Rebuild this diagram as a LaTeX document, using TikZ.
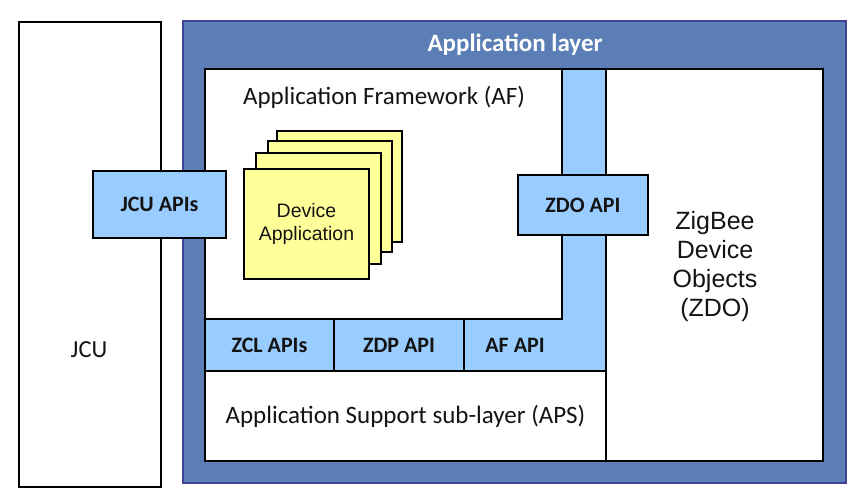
\documentclass[tikz,border=0pt]{standalone}
\usepackage{fontspec}
\setmainfont{Carlito}
\newfontfamily\arial{Liberation Sans}
\usetikzlibrary{fit}
\definecolor{layerblue}{RGB}{90,126,181}
\definecolor{layeredge}{RGB}{62,66,152}
\definecolor{apiblue}{RGB}{153,204,255}
\definecolor{appyellow}{RGB}{255,255,153}
\definecolor{inkc}{RGB}{20,20,20}
\begin{document}
\begin{tikzpicture}[x=1pt,y=-1pt,
  every node/.style={outer sep=0pt},
  box/.style={draw=black, line width=1.8pt, inner sep=0pt, fill=white},
  apibox/.style={box, fill=apiblue},
  apifill/.style={inner sep=0pt, fill=apiblue},
  appbox/.style={draw=black, line width=1.5pt, inner sep=0pt, fill=appyellow},
  apitext/.style={font=\bfseries\fontsize{22}{26}\selectfont, text=inkc},
  plaintext/.style={font=\fontsize{25}{30}\selectfont, text=inkc},
  arialtext/.style={font=\arial\fontsize{19.5}{23.5}\selectfont, text=inkc, align=center}]
\useasboundingbox (0,0) rectangle (862,502);

% JCU
\node[box, fit={(19,22)(161,487)}] (jcu) {};
\node[font=\fontsize{24.5}{29}\selectfont, text=inkc] (jcut) at (89,350) {JCU};

% Application layer
\node[draw=layeredge, line width=1.4pt, fill=layerblue, inner sep=0pt, fit={(183,21)(846,483)}] (layer) {};
\node[font=\bfseries\fontsize{25}{30}\selectfont, text=white] (layert) at (515,45) {Application layer};

% blue L (bar + AF API cell)
\node[apifill, fit={(562,69)(606,319)}] (bar) {};
\node[apifill, fit={(464,319)(606,371)}] (afapi) {};

% Application Framework
\node[box, fit={(205,69)(562,319)}] (af) {};
\node[plaintext] (aft) at (384,97) {Application Framework (AF)};
\draw[line width=1.8pt] (af.north east) -- (bar.north east);

% API row
\node[apibox, fit={(205,319)(334,371)}] (zcl) {};
\node[apitext] at (zcl.center) {ZCL APIs};
\node[apibox, fit={(334,319)(464,371)}] (zdp) {};
\node[apitext] at (zdp.center) {ZDP API};
\node[apitext] (afapit) at (515,345) {AF API};

% APS
\node[box, fit={(205,371)(606,461)}] (aps) {};
\node[plaintext] (apst) at (aps.center) {Application Support sub-layer (APS)};

% ZDO
\node[box, fit={(606,69)(823,461)}] (zdo) {};
\node[font=\arial\fontsize{25}{29}\selectfont, text=inkc, align=center] (zdot) at (715,267) {ZigBee\\Device\\Objects\\(ZDO)};

% ZDO API
\node[apibox, fit={(518,175)(648,235)}] (zdoapi) {};
\node[apitext] at (zdoapi.center) {ZDO API};

% JCU APIs
\node[apibox, fit={(93,171)(226,238)}] (jcuapi) {};
\node[apitext] at (jcuapi.center) {JCU APIs};

% Device application stack
\node[appbox, fit={(277,131)(402,242)}] (s4) {};
\node[appbox, fit={(268,141)(392,252)}] (s3) {};
\node[appbox, fit={(256,153)(381,264)}] (s2) {};
\node[appbox, fit={(244,169)(369,279)}] (s1) {};
\node[arialtext] (s1t) at (s1.center) {Device\\Application};
\end{tikzpicture}
\end{document}
